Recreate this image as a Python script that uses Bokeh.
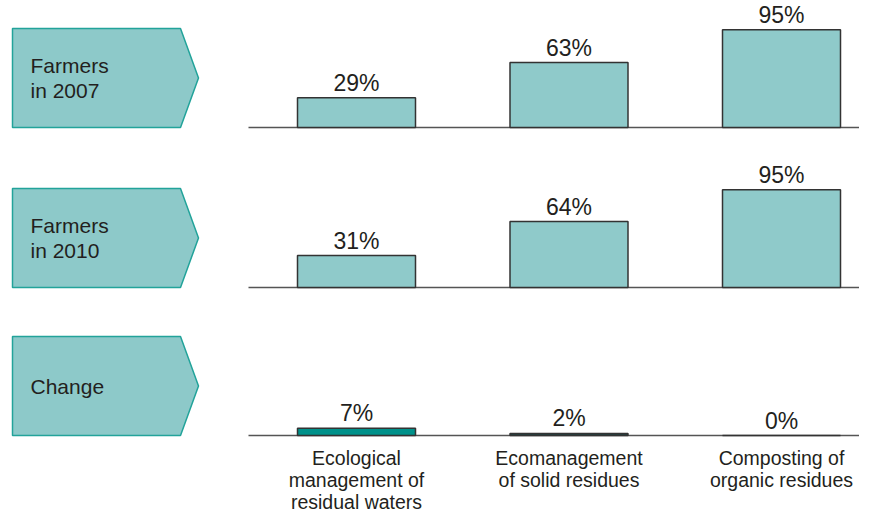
from bokeh.plotting import figure
from bokeh.models import Range1d, ColumnDataSource
from bokeh.core.properties import value
from bokeh.embed import file_html
from bokeh.resources import INLINE

# ---------------- data ----------------
categories = ["Ecological\nmanagement of\nresidual waters",
              "Ecomanagement\nof solid residues",
              "Composting of\norganic residues"]
row_labels = ["Farmers\nin 2007", "Farmers\nin 2010", "Change"]
farmers_2007 = [29, 63, 95]
farmers_2010 = [31, 64, 95]
change = [7, 2, 0]
rows = [farmers_2007, farmers_2010, change]

# ---------------- layout / style ----------------
FONT = value("Liberation Sans")
TXT = "#231F20"
W, H = 859, 513
Y_SHIFT = 12
X_FIRST, X_STEP, BAR_W = 356, 212.5, 118
BASELINES = [139, 299, 447]
PX_PER_PCT = 1.03
BAR_FILLS = [["#8FCACA"] * 3, ["#8FCACA"] * 3, ["#00918A", "#1F4544", "#1F4544"]]

p = figure(width=W, height=H, output_backend="svg", toolbar_location=None,
           x_range=Range1d(0, W), y_range=Range1d(H + Y_SHIFT, Y_SHIFT),
           x_axis_type=None, y_axis_type=None, min_border=0,
           outline_line_color=None, background_fill_color="white")
p.grid.visible = False

centers = [X_FIRST + i * X_STEP for i in range(len(categories))]

for r, (vals, base, lab) in enumerate(zip(rows, BASELINES, row_labels)):
    # pentagon label
    top = base - 99
    xs = [12, 180, 198, 180, 12]
    ys = [top, top, top + 49.5, base, base]
    p.patch(xs, ys, fill_color="#8DC9C9", line_color="#22A39A", line_width=1.5)
    p.text(x=[30], y=[top + 49.5], text=[lab], text_font=FONT, text_font_size="21px",
           text_color=TXT, text_baseline="middle", text_align="left",
           text_line_height=1.1)
    # baseline
    p.segment(x0=[248], y0=[base], x1=[880], y1=[base], line_color="#555555", line_width=1.5)
    # bars
    tops = [base - v * PX_PER_PCT for v in vals]
    src = ColumnDataSource(dict(x=centers, top=tops, bottom=[base] * 3,
                                fill=BAR_FILLS[r], lab=[f"{v}%" for v in vals],
                                ly=[t - 2 for t in tops]))
    p.vbar(x="x", width=BAR_W, top="top", bottom="bottom", source=src,
           fill_color="fill", line_color="#333333", line_width=1.5)
    p.text(x="x", y="ly", text="lab", source=src, text_font=FONT, text_font_size="23px",
           text_color=TXT, text_align="center", text_baseline="bottom")

# category labels
p.text(x=centers, y=[458] * 3, text=categories, text_font=FONT, text_font_size="19.5px",
       text_color=TXT, text_align="center", text_baseline="top", text_line_height=1.0)

open("out.html", "w").write(file_html(p, INLINE))
